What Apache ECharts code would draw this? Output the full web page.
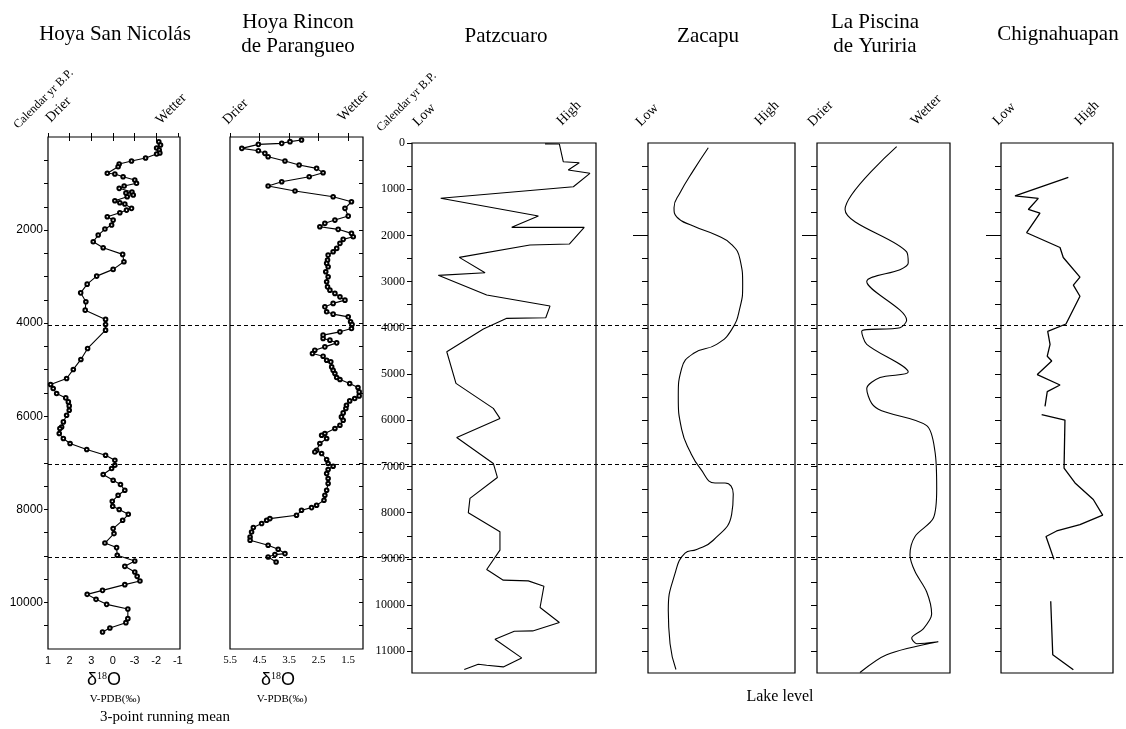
<!DOCTYPE html>
<html><head><meta charset="utf-8">
<script src="https://cdn.jsdelivr.net/npm/echarts@6/dist/echarts.min.js"></script>
<style>html,body{margin:0;padding:0;background:#fff}#c{width:1126px;height:729px}</style>
</head><body><div id="c"></div>
<script>
// ---------- DATA ----------
// Hoya San Nicolás (x position on the printed δ18O scale, age in cal yr BP)
const snTickLabels = ['1','2','3','0','-3','-2','-1'];
const snAge = [101,172,237,280,344,366,452,516,581,639,780,796,854,925,995,1054,1103,1183,1204,1247,1284,1370,1413,1441,1533,1570,1628,1714,1785,1892,1978,2107,2251,2380,2522,2681,2844,2989,3161,3348,3541,3720,3919,4027,4150,4543,4779,4994,5188,5317,5403,5510,5605,5691,5777,5870,5977,6121,6229,6263,6370,6478,6585,6714,6837,6945,7052,7123,7252,7375,7467,7590,7697,7826,7934,8004,8106,8235,8413,8521,8723,8821,8987,9110,9224,9346,9439,9540,9617,9740,9826,9933,10041,10142,10348,10434,10550,10636];
const snVal = [5.12,5.20,5.02,5.14,5.17,5.02,4.51,3.86,3.29,3.24,2.74,3.09,3.47,4.01,4.09,3.52,3.29,3.88,3.60,3.94,3.66,3.09,3.32,3.55,3.86,3.63,3.32,2.74,3.01,2.94,2.63,2.32,2.09,2.55,3.45,3.51,3.01,2.25,1.81,1.51,1.75,1.72,2.66,2.66,2.66,1.83,1.52,1.17,0.86,0.12,0.24,0.40,0.82,0.94,0.98,0.98,0.86,0.71,0.63,0.55,0.52,0.71,1.02,1.79,2.66,3.09,3.09,2.94,2.55,3.01,3.35,3.55,3.24,2.97,2.99,3.29,3.71,3.45,3.01,3.05,2.63,3.17,3.20,4.01,3.55,4.01,4.12,4.25,3.55,2.52,1.81,2.22,2.71,3.69,3.69,3.60,2.86,2.52];

// Hoya Rincon de Parangueo (δ18O ‰ V-PDB)
const hrTickLabels = [5.5,4.5,3.5,2.5,1.5];
const hrAge = [65,100,136,158,244,294,351,423,516,602,674,767,853,961,1054,1161,1284,1391,1533,1699,1785,1855,1929,1984,2070,2144,2199,2285,2393,2466,2537,2645,2715,2789,2896,3004,3111,3219,3290,3360,3434,3505,3575,3649,3756,3806,3864,3971,4027,4113,4186,4257,4328,4365,4423,4509,4580,4651,4709,4795,4831,4939,5010,5080,5166,5209,5296,5382,5476,5562,5618,5670,5762,5833,5928,6014,6085,6192,6263,6370,6407,6478,6585,6730,6766,6800,6929,7015,7074,7145,7231,7338,7445,7590,7697,7805,7912,7962,8020,8127,8198,8235,8305,8391,8486,8594,8665,8772,8858,8950,8972,9024,9131];
const hrVal = [3.08,3.47,3.75,4.54,5.10,4.54,4.32,4.21,3.64,3.16,2.57,2.35,2.82,3.75,4.21,3.30,2.01,1.39,1.61,1.50,1.95,2.29,2.46,1.84,1.39,1.33,1.67,1.78,1.89,2.01,2.18,2.20,2.23,2.18,2.26,2.18,2.23,2.20,2.12,1.95,1.78,1.61,2.01,2.29,2.23,2.01,1.50,1.42,1.37,1.39,1.78,2.35,2.35,2.12,1.89,2.29,2.63,2.71,2.35,2.23,2.09,2.06,2.01,1.95,1.89,1.78,1.45,1.17,1.13,1.13,1.28,1.45,1.56,1.58,1.67,1.73,1.67,1.78,1.95,2.29,2.40,2.23,2.46,2.57,2.63,2.40,2.23,2.18,2.01,2.18,2.23,2.18,2.18,2.23,2.29,2.32,2.57,2.74,3.08,3.25,4.15,4.26,4.43,4.71,4.77,4.82,4.82,4.21,3.87,3.64,3.98,4.21,3.94];

// Patzcuaro lake level (relative, Low=0 .. High=10)
const ptAge = [20,22,405,426,585,656,946,1197,1580,1825,1825,2187,2208,2475,2808,2864,3291,3529,3782,3795,4027,4518,5203,5744,5960,6372,6935,7238,7692,8004,8415,8812,9229,9461,9476,9591,10052,10377,10559,10565,10738,11143,11338,11301,11280,11395];
const ptVal = [7.23,8.01,8.22,9.09,8.49,9.67,8.77,1.56,6.87,5.42,9.36,8.55,6.41,2.57,3.97,1.43,4.06,7.50,7.27,5.15,3.88,1.89,2.39,4.42,4.78,2.43,4.42,4.64,3.15,3.06,4.78,4.78,4.06,4.96,6.32,7.17,6.96,8.01,6.56,5.56,4.51,5.96,4.96,4.06,3.60,2.84];

// Zacapu lake level
const zcAge = [102,598,1078,1399,1598,1797,1998,2197,2518,3076,3557,4038,4358,4557,4878,5477,6196,6677,7036,7357,7357,7597,8037,8597,8796,8877,9316,10115,10836,11395];
const zcVal = [4.10,3.08,2.18,1.77,1.95,3.08,4.67,5.69,6.26,6.44,6.26,5.69,4.67,3.08,2.29,2.06,2.29,2.86,3.54,4.56,5.24,5.80,5.69,4.44,3.31,2.52,1.84,1.38,1.50,1.90];

// La Piscina de Yuriria (Drier=0 .. Wetter=10)
const yrAge = [78,1438,2358,2598,2741,2998,3836,3997,4077,4358,4958,5077,5317,5636,5796,6116,6677,7476,8117,8515,8915,9275,9716,10195,10516,10715,10836,10795,11074,11459];
const yrVal = [5.99,2.11,6.74,6.86,6.24,3.74,6.74,6.24,3.36,3.74,6.86,4.74,3.74,4.11,4.86,8.25,8.87,9.00,8.75,7.37,6.99,7.37,8.25,8.62,7.99,7.12,7.50,9.12,5.24,3.23];

// Chignahuapan lake level (null = gap in record)
const chAge = [743,1143,1197,1438,1518,1942,2262,2477,2901,3076,3317,3917,4077,4358,4614,4717,5012,5237,5380,5700,null,5876,5997,7036,7357,7716,8052,8260,8396,8515,9011,null,9916,11074,11400];
const chVal = [6.01,1.25,3.33,2.44,3.48,2.29,5.27,5.56,7.05,6.46,7.05,5.80,4.17,4.38,4.13,4.53,3.24,5.27,4.13,3.93,null,3.63,5.71,5.63,6.61,8.24,9.08,7.05,4.97,4.02,4.73,null,4.44,4.62,6.46];

// Reference ages drawn as dashed lines
const markerAges = [4000, 7000, 9000];
const patzLabels = [0,1000,2000,3000,4000,5000,6000,7000,8000,9000,10000,11000];
const snAgeLabels = [2000,4000,6000,8000,10000];

// ---------- BUILD ----------
const pair = (xs, ys) => ys.map((y, i) => [xs[i], y]);
function split(xs, ys) {
  const out = []; let cur = [];
  ys.forEach((y, i) => { if (y === null) { if (cur.length) out.push(cur); cur = []; } else cur.push([xs[i], y]); });
  if (cur.length) out.push(cur); return out;
}
const halfSteps = (a, b) => { const r = []; for (let v = a; v <= b; v += 500) r.push(v); return r; };
const BLACK = '#000';
const serif = 'Liberation Serif';
const sans = 'Liberation Sans';
const plain = v => String(Math.round(v));

const boxes = [
  {left:48, top:137, width:132, height:512},
  {left:230, top:137, width:133, height:512},
  {left:412, top:143, width:184, height:530},
  {left:648, top:143, width:147, height:530},
  {left:817, top:143, width:133, height:530},
  {left:1001, top:143, width:112, height:530}
];
const grid = boxes.map(b => Object.assign({show:true, borderColor:BLACK, borderWidth:1.2, backgroundColor:'transparent', containLabel:false, outerBoundsMode:'none'}, b));
grid.push({left:48, top:140, width:1078, height:510, show:false, containLabel:false, outerBoundsMode:'none'});

const noAxis = {axisLine:{show:false}, axisTick:{show:false}, axisLabel:{show:false}, splitLine:{show:false}};
const xAxis = [], yAxis = [];
function xa(gi, o) { xAxis.push(Object.assign({type:'value', gridIndex:gi}, noAxis, o)); }
function ya(gi, o) { yAxis.push(Object.assign({type:'value', gridIndex:gi, inverse:true}, noAxis, o)); }
const tickIn = vals => ({show:true, inside:true, length:4, customValues:vals, lineStyle:{color:BLACK}});
const tickOut = (vals, len) => ({show:true, inside:false, length:len, customValues:vals, lineStyle:{color:BLACK}});

// Panel 1
xa(0, {min:0, max:6.1, axisTick:tickIn([0,1,2,3,4,5,6]),
  axisLabel:{show:true, customValues:[0,1,2,3,4,5,6], formatter:v => snTickLabels[Math.round(v)], color:BLACK, fontFamily:sans, fontSize:11, margin:6}});
xa(0, {min:0, max:6.1, position:'top', axisTick:tickIn([1,2,3,4,5])});
ya(0, {min:0, max:11000, axisTick:tickOut(snAgeLabels, 4),
  axisLabel:{show:true, customValues:snAgeLabels, formatter:plain, color:BLACK, fontFamily:sans, fontSize:12, margin:5}});
ya(0, {min:0, max:11000, position:'right', axisTick:tickIn(halfSteps(500,10500))});
// Panel 2
xa(1, {min:1, max:5.5, inverse:true, axisTick:tickIn(hrTickLabels),
  axisLabel:{show:true, customValues:hrTickLabels, formatter:v => v.toFixed(1), color:BLACK, fontFamily:serif, fontSize:11, margin:6}});
xa(1, {min:1, max:5.5, inverse:true, position:'top', axisTick:tickIn([4.5,3.5,2.5,1.5])});
ya(1, {min:0, max:11000});
ya(1, {min:0, max:11000, position:'right', axisTick:tickIn(halfSteps(500,10500))});
// Panel 3
xa(2, {min:0, max:10}); xa(2, {min:0, max:10, position:'top'});
ya(2, {min:0, max:11470, axisTick:tickOut(halfSteps(0,11000), 5),
  axisLabel:{show:true, customValues:patzLabels, formatter:plain, color:BLACK, fontFamily:serif, fontSize:12, margin:7}});
ya(2, {min:0, max:11470, position:'right'});
// Panels 4-6
for (let g = 3; g <= 5; g++) {
  xa(g, {min:0, max:10}); xa(g, {min:0, max:10, position:'top'});
  ya(g, {min:0, max:11470, axisTick:tickOut(halfSteps(500,11000), 6)});
  ya(g, {min:0, max:11470, position:'left', axisTick:tickOut([2000], 15)});
}
// Overlay for dashed marker lines
xa(6, {min:0, max:1}); ya(6, {min:0, max:11000});

const lineStyle = {color:BLACK, width:1.1};
const series = [
  {type:'line', xAxisIndex:0, yAxisIndex:0, data:pair(snVal, snAge), symbol:'emptyCircle', symbolSize:3.6,
   lineStyle, itemStyle:{color:BLACK, borderWidth:0.7}},
  {type:'line', xAxisIndex:2, yAxisIndex:2, data:pair(hrVal, hrAge), symbol:'emptyCircle', symbolSize:3.6,
   lineStyle, itemStyle:{color:BLACK, borderWidth:0.7}},
  {type:'line', xAxisIndex:4, yAxisIndex:4, data:pair(ptVal, ptAge), showSymbol:false, lineStyle},
  {type:'line', xAxisIndex:6, yAxisIndex:6, data:pair(zcVal, zcAge), showSymbol:false, smooth:0.5, lineStyle},
  {type:'line', xAxisIndex:8, yAxisIndex:8, data:pair(yrVal, yrAge), showSymbol:false, smooth:0.3, lineStyle}
];
split(chVal, chAge).forEach(seg => series.push({type:'line', xAxisIndex:10, yAxisIndex:10, data:seg, showSymbol:false, lineStyle:{color:BLACK, width:1.3}}));
series.push({type:'line', xAxisIndex:12, yAxisIndex:12, data:[[0,0]], showSymbol:false, lineStyle:{opacity:0}, silent:true,
  markLine:{symbol:'none', silent:true, label:{show:false}, lineStyle:{type:[4,3], color:BLACK, width:1},
    data:markerAges.map(a => ({yAxis:a}))}});

// ---------- TEXT ----------
const T = (text, x, y, o) => ({type:'text', x, y, style:Object.assign({text, fill:BLACK, font:'21px "Liberation Serif"', align:'center', verticalAlign:'middle'}, o || {})});
const R = (text, x, y, size) => ({type:'text', x, y, rotation:Math.PI/4, style:{text, fill:BLACK, font:(size||14)+'px "Liberation Serif"', align:'left', verticalAlign:'bottom'}});
const d18 = (x, y) => ({type:'text', x, y, style:{text:'{a|δ}{s|18}{a|O}', align:'center', verticalAlign:'middle',
  rich:{a:{fontFamily:sans, fontSize:18, fill:BLACK, verticalAlign:'bottom'}, s:{fontFamily:serif, fontSize:10, fill:BLACK, verticalAlign:'top', padding:[0,0,8,0]}}}});
const graphic = [
  T('Hoya San Nicolás', 115, 34),
  T('Hoya Rincon', 298, 22), T('de Parangueo', 298, 46),
  T('Patzcuaro', 506, 36),
  T('Zacapu', 708, 36),
  T('La Piscina', 875, 22), T('de Yuriria', 875, 46),
  T('Chignahuapan', 1058, 34),
  R('Calendar yr B.P.', 20, 131, 12), R('Drier', 53, 125), R('Wetter', 163, 127),
  R('Drier', 230, 127), R('Wetter', 345, 124),
  R('Calendar yr B.P.', 383, 134, 12), R('Low', 420, 129), R('High', 564, 128),
  R('Low', 643, 129), R('High', 762, 128),
  R('Drier', 815, 129), R('Wetter', 918, 128),
  R('Low', 1000, 128), R('High', 1082, 128),
  d18(104, 680), d18(278, 680),
  T('V-PDB(‰)', 115, 699, {font:'11px "Liberation Serif"'}),
  T('V-PDB(‰)', 282, 699, {font:'11px "Liberation Serif"'}),
  T('3-point running mean', 165, 717, {font:'15px "Liberation Serif"'}),
  T('Lake level', 780, 697, {font:'16px "Liberation Serif"'})
];

const chart = echarts.init(document.getElementById('c'), null, {renderer:'canvas'});
chart.setOption({animation:false, backgroundColor:'#fff', grid, xAxis, yAxis, series, graphic});
</script></body></html>
